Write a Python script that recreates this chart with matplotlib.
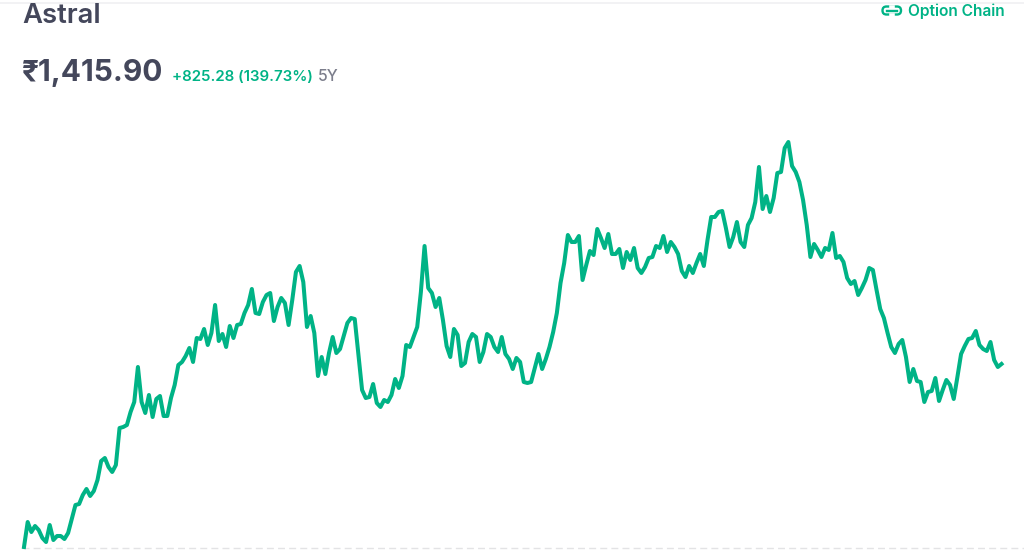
import matplotlib
matplotlib.use("Agg")
import matplotlib.pyplot as plt
from matplotlib.patches import FancyBboxPatch
import numpy as np

plt.rcParams['font.family'] = ['Inter', 'Noto Sans', 'DejaVu Sans']

GREEN = '#00b386'
DARK = '#44475b'
GREY = '#7c7e8c'

stock_name = 'Astral'
price_label = '₹1,415.90'
change_label = '+825.28 (139.73%)'
period_label = '5Y'
link_label = 'Option Chain'

# height of the line above the chart floor
close = [
    0, 25, 15, 21, 17, 9, 5, 22, 7, 11, 11, 8, 14, 28, 42, 43, 52, 58, 51, 56,
    67, 86, 89, 80, 75, 82, 119, 120, 122, 135, 145, 180, 145, 134, 152, 130, 148, 151, 131, 131,
    149, 162, 182, 185, 191, 199, 185, 209, 208, 218, 202, 214, 242, 206, 213, 200, 221, 209, 222, 223,
    234, 242, 258, 234, 233, 245, 252, 254, 226, 240, 249, 244, 222, 247, 275, 281, 265, 220, 231, 214,
    171, 190, 173, 194, 210, 194, 198, 211, 224, 229, 228, 192, 157, 149, 150, 163, 144, 140, 147, 145,
    152, 168, 159, 171, 202, 200, 210, 220, 255, 301, 259, 254, 240, 249, 227, 201, 190, 218, 212, 181,
    184, 205, 213, 210, 185, 195, 213, 210, 200, 195, 210, 193, 188, 178, 189, 185, 165, 164, 165, 179,
    193, 178, 188, 200, 215, 234, 264, 284, 312, 305, 305, 311, 267, 282, 296, 292, 318, 309, 299, 313,
    293, 293, 298, 279, 295, 287, 299, 279, 274, 280, 289, 290, 301, 299, 311, 295, 305, 300, 293, 276,
    270, 281, 274, 284, 293, 281, 307, 330, 330, 335, 336, 319, 300, 310, 325, 305, 300, 322, 329, 345,
    380, 338, 351, 335, 349, 374, 375, 399, 405, 381, 375, 365, 347, 322, 290, 303, 297, 290, 299, 297,
    314, 289, 291, 285, 269, 263, 266, 252, 259, 267, 279, 277, 257, 238, 229, 214, 200, 194, 203, 207,
    190, 165, 178, 166, 165, 145, 155, 156, 169, 146, 157, 167, 162, 148, 170, 193, 201, 208, 209, 216,
    202, 198, 196, 205, 187, 180, 183,
]

W, H = 1024, 555
fig = plt.figure(figsize=(W / 100, H / 100), dpi=100, facecolor='white')

# overlay in pixel coords for the page furniture
page = fig.add_axes([0, 0, 1, 1])
page.set_xlim(0, W)
page.set_ylim(H, 0)
page.axis('off')
page.plot([0, W], [2.5, 2.5], color='#f0f0f2', lw=1.2)
page.plot([22, W], [547.5, 547.5], color='#e3e3e5', lw=1.0, dashes=(5, 3))

ax = fig.add_axes([24 / W, (H - 547) / H, 977.5 / W, 547 / H])
ax.patch.set_alpha(0)
ax.plot(np.arange(len(close)), close, color=GREEN, lw=2.9, solid_joinstyle='round', clip_on=False)
ax.set_xlim(0, len(close) - 1)
ax.set_ylim(0, 547)
ax.axis('off')

page.text(22, 23, stock_name, fontsize=19.8, color=DARK, fontweight='semibold', va='baseline')
page.text(22, 81, price_label, fontsize=21.5, color=DARK, fontweight='bold', va='baseline')
page.text(172, 81, change_label, fontsize=10.85, color=GREEN, fontweight='semibold', va='baseline')
page.text(318, 81, period_label, fontsize=11.4, color=GREY, fontweight='medium', va='baseline')
page.text(908, 16, link_label, fontsize=11.2, color=GREEN, fontweight='semibold', va='baseline')

# link icon
page.add_patch(FancyBboxPatch((882.5, 6.5), 18.5, 8, boxstyle='round,pad=0,rounding_size=4', fc='none', ec=GREEN, lw=1.7))
page.plot([890.5, 893], [6.5, 6.5], color='white', lw=2.6)
page.plot([890.5, 893], [14.5, 14.5], color='white', lw=2.6)
page.plot([887, 897], [10.5, 10.5], color=GREEN, lw=1.7)

fig.savefig('out.png', dpi=100)
